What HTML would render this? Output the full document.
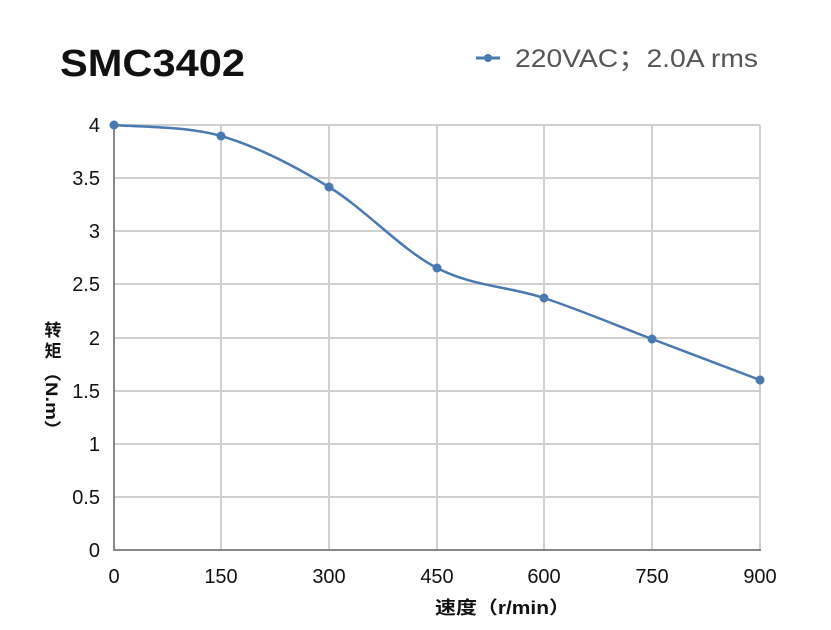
<!DOCTYPE html>
<html><head><meta charset="utf-8"><style>
html,body{margin:0;padding:0;background:#fff;}
svg{display:block;}
</style></head><body>
<svg width="831" height="630" xmlns="http://www.w3.org/2000/svg" font-family="Liberation Sans, Noto Sans CJK SC, sans-serif">
<rect width="831" height="630" fill="#fff"/>
<text x="60" y="76" font-size="38" font-weight="bold" fill="#111" textLength="185" lengthAdjust="spacingAndGlyphs">SMC3402</text>
<line x1="476" y1="58" x2="500" y2="58" stroke="#4a78b0" stroke-width="3"/>
<circle cx="488" cy="58" r="4" fill="#4a78b0"/>
<text x="515" y="67" font-size="25" fill="#555" textLength="243" lengthAdjust="spacingAndGlyphs">220VAC；2.0A rms</text>
<g stroke="#d0d0d0" stroke-width="2">
<line x1="114" y1="125" x2="760" y2="125"/>
<line x1="114" y1="178" x2="760" y2="178"/>
<line x1="114" y1="231" x2="760" y2="231"/>
<line x1="114" y1="284" x2="760" y2="284"/>
<line x1="114" y1="338" x2="760" y2="338"/>
<line x1="114" y1="391" x2="760" y2="391"/>
<line x1="114" y1="444" x2="760" y2="444"/>
<line x1="114" y1="497" x2="760" y2="497"/>
<line x1="221" y1="125" x2="221" y2="550"/>
<line x1="329" y1="125" x2="329" y2="550"/>
<line x1="437" y1="125" x2="437" y2="550"/>
<line x1="544" y1="125" x2="544" y2="550"/>
<line x1="652" y1="125" x2="652" y2="550"/>
<line x1="760" y1="125" x2="760" y2="550"/>
</g>
<line x1="114" y1="125" x2="114" y2="551" stroke="#888" stroke-width="2"/>
<line x1="113" y1="550" x2="761" y2="550" stroke="#888" stroke-width="2"/>
<g font-size="20" fill="#111" text-anchor="end">
<text x="100" y="132">4</text><text x="100" y="185">3.5</text><text x="100" y="238">3</text>
<text x="100" y="291">2.5</text><text x="100" y="345">2</text><text x="100" y="398">1.5</text>
<text x="100" y="451">1</text><text x="100" y="504">0.5</text><text x="100" y="557">0</text>
</g>
<g font-size="20" fill="#111" text-anchor="middle">
<text x="114" y="583">0</text><text x="221" y="583">150</text><text x="329" y="583">300</text>
<text x="437" y="583">450</text><text x="544" y="583">600</text><text x="652" y="583">750</text><text x="760" y="583">900</text>
</g>
<text x="435" y="614" font-size="18" font-weight="bold" fill="#111" textLength="135" lengthAdjust="spacingAndGlyphs">速度（r/min）</text>
<g font-size="17" font-weight="bold" fill="#111" text-anchor="middle">
<text x="53" y="336">转</text>
<text x="53" y="357">矩</text>
</g>
<text transform="translate(46,362) rotate(90)" font-size="17" font-weight="bold" fill="#111" textLength="78" lengthAdjust="spacingAndGlyphs">（N.m）</text>
<path d="M114,125 C131.8,126.8 185.2,125.7 221,136 C256.8,146.3 293,165 329,187 C365,209 401.2,249.5 437,268 C472.8,286.5 508.2,286.2 544,298 C579.8,309.8 616,325.3 652,339 C688,352.7 742,373.2 760,380" fill="none" stroke="#4a78b0" stroke-width="2.5"/>
<g fill="#4a78b0">
<circle cx="114" cy="125" r="4.5"/><circle cx="221" cy="136" r="4.5"/><circle cx="329" cy="187" r="4.5"/>
<circle cx="437" cy="268" r="4.5"/><circle cx="544" cy="298" r="4.5"/><circle cx="652" cy="339" r="4.5"/><circle cx="760" cy="380" r="4.5"/>
</g>
</svg>
</body></html>
